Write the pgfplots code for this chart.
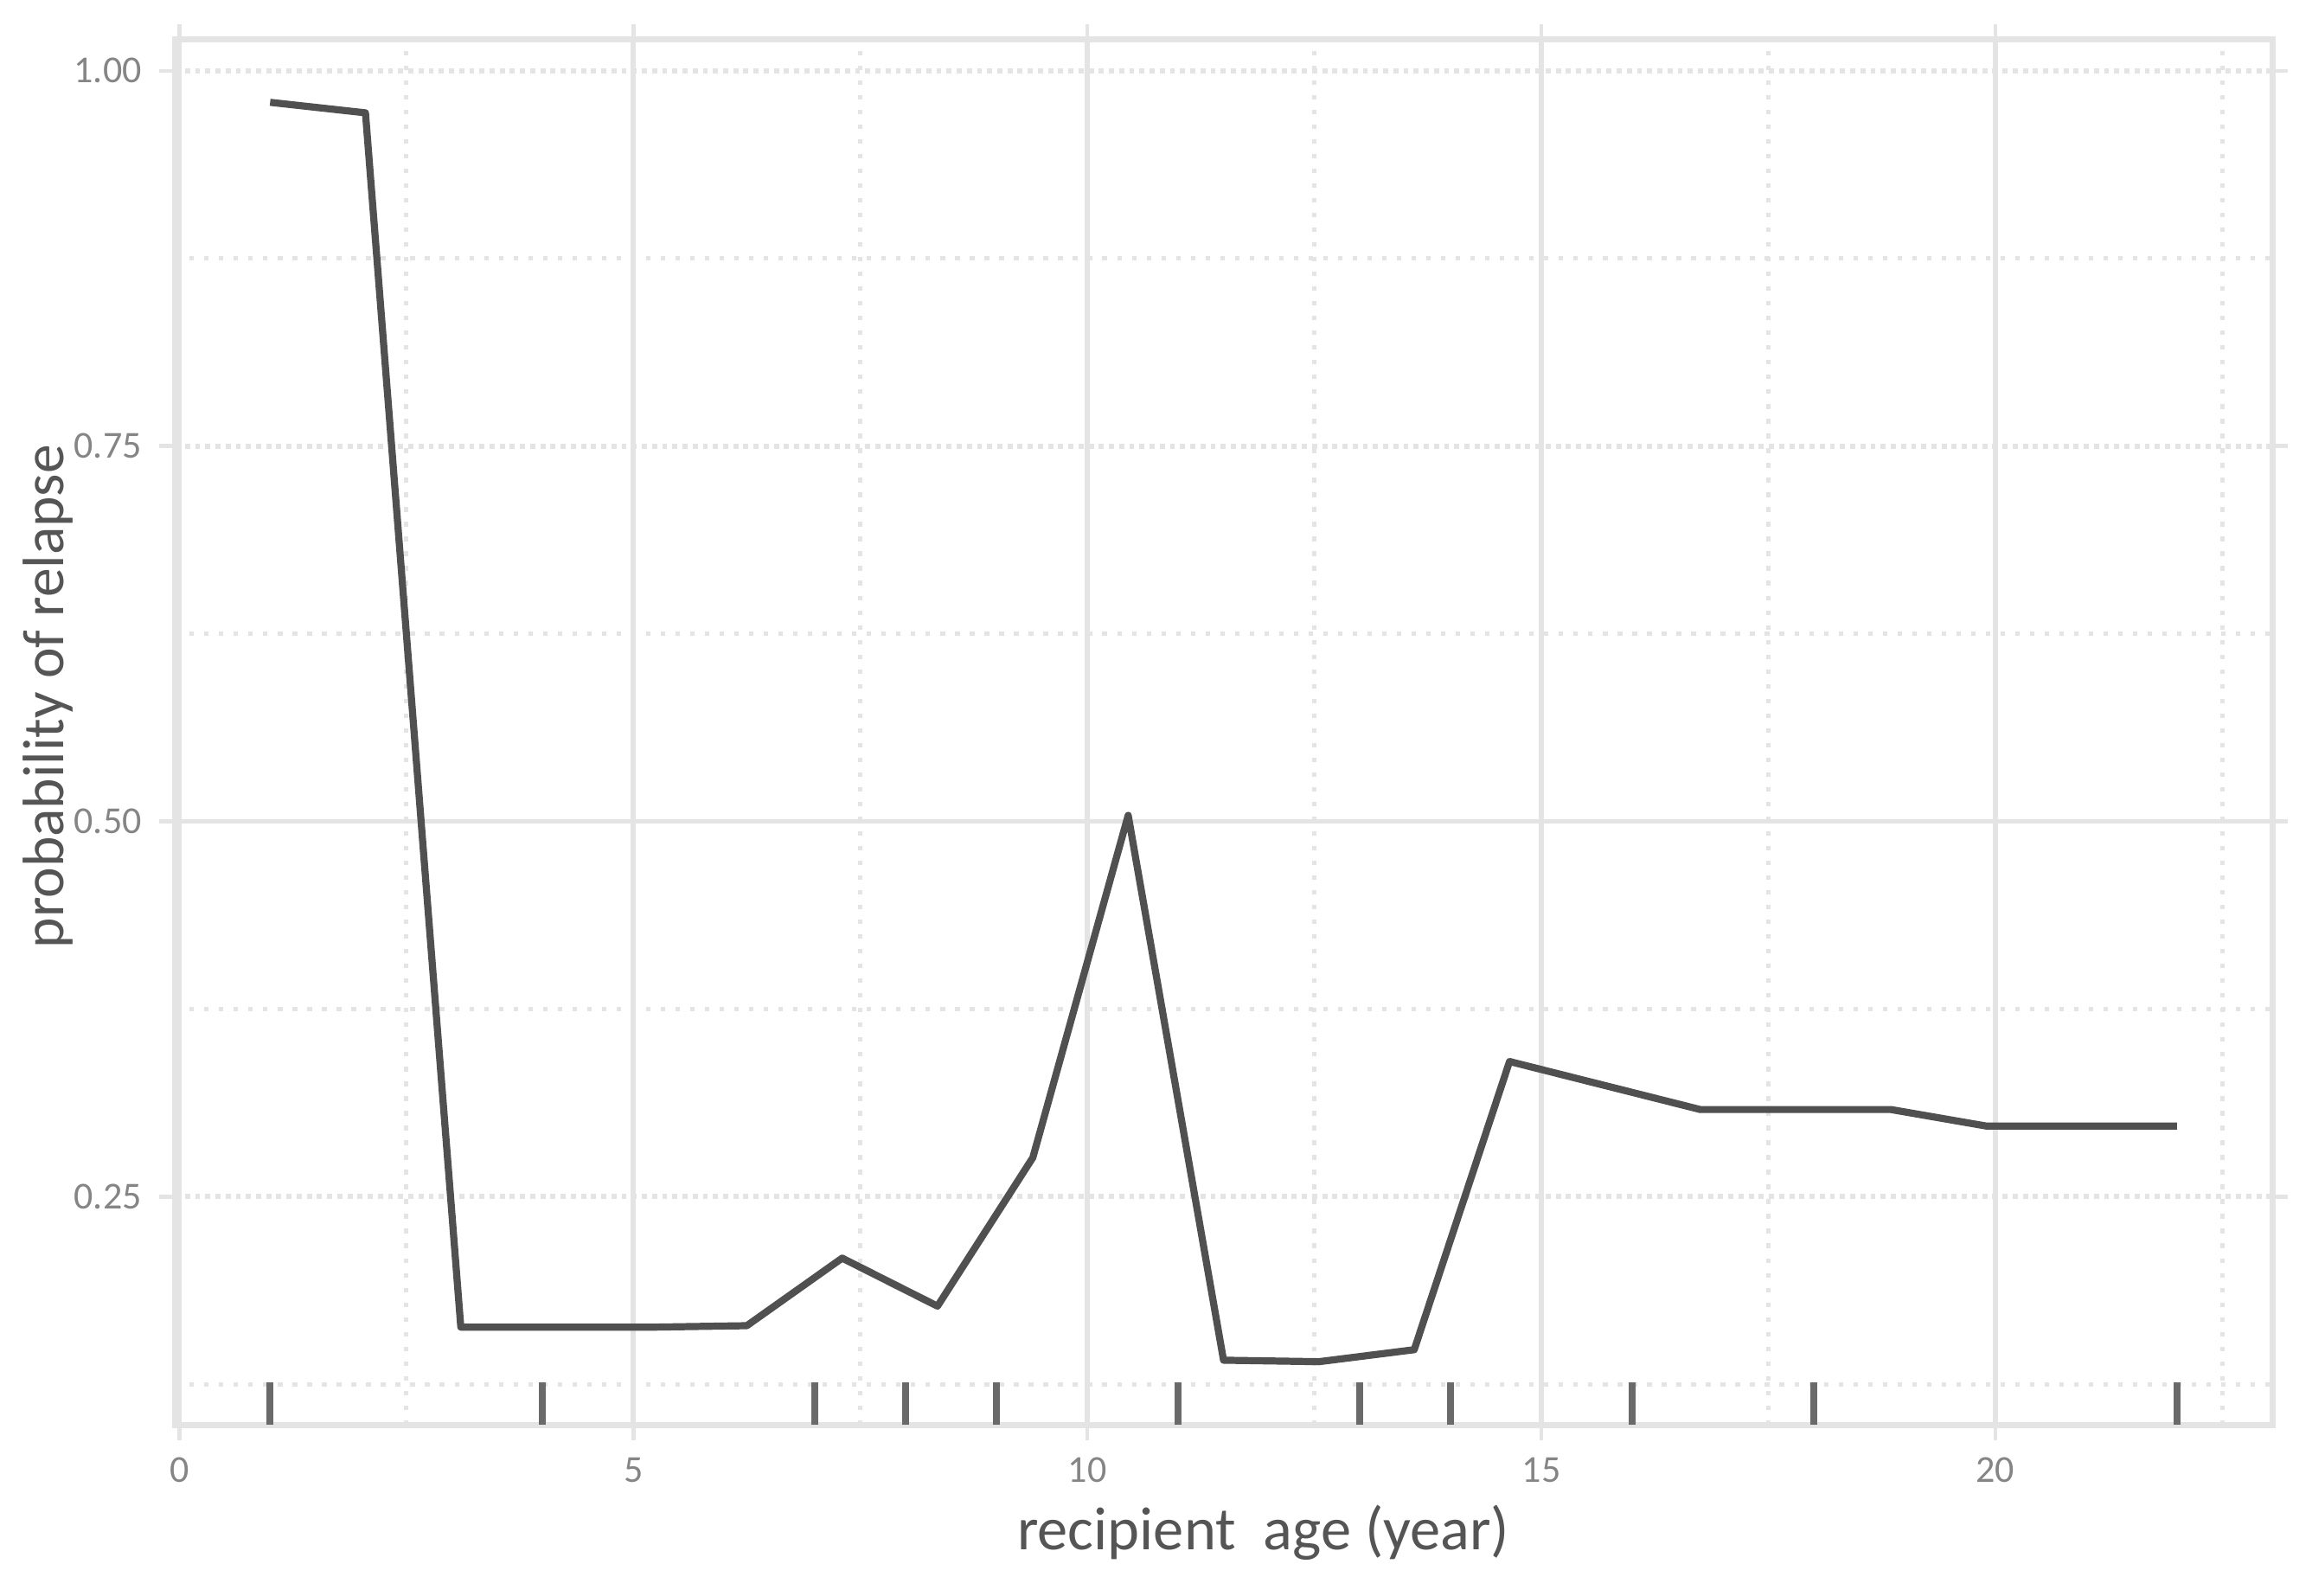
\documentclass[border=0pt]{standalone}
\usepackage{fontspec}
\setmainfont{Carlito}
\usepackage{pgfplots}
\pgfplotsset{compat=1.18}
\usetikzlibrary{calc}
\definecolor{gridgray}{HTML}{E4E4E4}
\definecolor{linegray}{HTML}{505050}
\definecolor{ruggray}{HTML}{6A6A6A}
\definecolor{labgray}{HTML}{555555}
\definecolor{tickgray}{HTML}{858585}

\begin{document}
\begin{tikzpicture}
\begin{axis}[
  scale only axis, width=14.52cm, height=9.59cm,
  xmin=-0.05, xmax=23.05, ymin=0.098, ymax=1.021,
  xtick={0,5,10,15,20}, xticklabels={0,5,10,15,20},
  minor xtick={2.5,7.5,12.5,17.5,22.5},
  ytick={0.25,0.75,1}, yticklabels={0.25,0.75,1.00},
  extra y ticks={0.5}, extra y tick labels={0.50},
  extra y tick style={grid=major, major y grid style={gridgray, line width=1pt, solid}},
  minor ytick={0.125,0.375,0.625,0.875},
  grid=both,
  major x grid style={gridgray, line width=1pt},
  minor x grid style={gridgray, line width=0.9pt, dotted},
  major y grid style={gridgray, line width=1pt, densely dotted},
  minor y grid style={gridgray, line width=0.9pt, dotted},
  axis line style={gridgray, line width=1.2pt},
  tick style={gridgray, line width=0.8pt},
  major tick length=3pt, minor tick length=0pt,
  tick align=outside,
  ticklabel style={font=\fontsize{7.5}{9}\selectfont, text=tickgray},
  xlabel={recipient\ \ age (year)},
  ylabel={probability of relapse},
  label style={font=\fontsize{12}{14}\selectfont, text=labgray},
  xlabel style={at={(axis description cs:0.519,-0.078)}, anchor=center},
  ylabel style={at={(axis description cs:-0.0605,0.5256)}, anchor=center,
    font=\fontsize{11.5}{13}\selectfont},
]
% rug of observed ages
\addplot[ycomb, ruggray, line width=1.3pt, forget plot] coordinates {
  (1,0.126) (4,0.126) (7,0.126) (8,0.126) (9,0.126) (11,0.126)
  (13,0.126) (14,0.126) (16,0.126) (18,0.126) (22,0.126)
};
% partial dependence curve
\addplot[linegray, line width=1.4pt, line join=round] coordinates {
  (1,0.979) (2.05,0.972) (3.1,0.163) (4.15,0.163) (5.2,0.163)
  (6.25,0.164) (7.3,0.209) (8.35,0.177) (9.4,0.276) (10.45,0.504)
  (11.5,0.141) (12.55,0.140) (13.6,0.148) (14.65,0.340) (15.7,0.324)
  (16.75,0.308) (17.8,0.308) (18.85,0.308) (19.9,0.297) (20.95,0.297)
  (22,0.297)
};
\end{axis}
\pgfresetboundingbox
\path ($(current axis.south west)+(-1.21cm,-1.18cm)$) rectangle ($(current axis.north east)+(0.275cm,0.272cm)$);
\end{tikzpicture}
\end{document}
